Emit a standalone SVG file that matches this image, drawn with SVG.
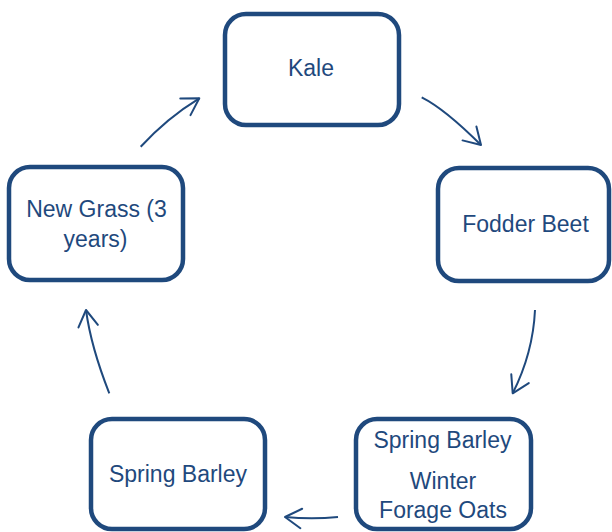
<svg xmlns="http://www.w3.org/2000/svg" width="612" height="532" viewBox="0 0 612 532">
<style>
.box{fill:#fff;stroke:#1F497D;stroke-width:4.5}
.t{font-family:"Liberation Sans",Arial,sans-serif;font-size:23px;fill:#1F497D;text-anchor:middle}
.c{fill:none;stroke:#1F497D;stroke-width:2;marker-end:url(#ah)}
</style>
<defs>
<marker id="ah" markerUnits="userSpaceOnUse" markerWidth="30" markerHeight="30" viewBox="-20 -15 30 30" refX="0" refY="0" orient="auto" overflow="visible">
<path d="M-16.3,-9.8 L0,0 L-16.3,9.8" fill="none" stroke="#1F497D" stroke-width="2" stroke-linecap="round" stroke-linejoin="round"/>
</marker>
</defs>
<rect width="612" height="532" fill="#fff"/>
<g id="connectors">
<path class="c" d="M140.7,146.7 Q167,118 199.3,98.3"/>
<path class="c" d="M421.7,97.3 Q445,109 481,145"/>
<path class="c" d="M535,310 Q533,353 512.7,393.3"/>
<path class="c" d="M338,517 Q312,519.5 285,517"/>
<path class="c" d="M109.3,393.3 Q91,347 86,310"/>
</g>
<g id="kale">
<rect class="box" x="225" y="14" width="174" height="111" rx="21"/>
<text class="t" x="311" y="76">Kale</text>
</g>
<g id="fodder-beet">
<rect class="box" x="438" y="168" width="171" height="113" rx="21"/>
<text class="t" x="525.5" y="231.5">Fodder Beet</text>
</g>
<g id="spring-barley-winter-oats">
<rect class="box" x="356" y="419" width="175" height="110" rx="21"/>
<text class="t" x="442.5" y="447.5">Spring Barley</text>
<text class="t" x="443" y="489">Winter</text>
<text class="t" x="443" y="518">Forage Oats</text>
</g>
<g id="spring-barley">
<rect class="box" x="91" y="419" width="174" height="110" rx="21"/>
<text class="t" x="178" y="481.5">Spring Barley</text>
</g>
<g id="new-grass">
<rect class="box" x="9" y="167" width="174" height="113" rx="21"/>
<text class="t" x="96.5" y="216.5">New Grass (3</text>
<text class="t" x="95.5" y="246.5">years)</text>
</g>
</svg>
